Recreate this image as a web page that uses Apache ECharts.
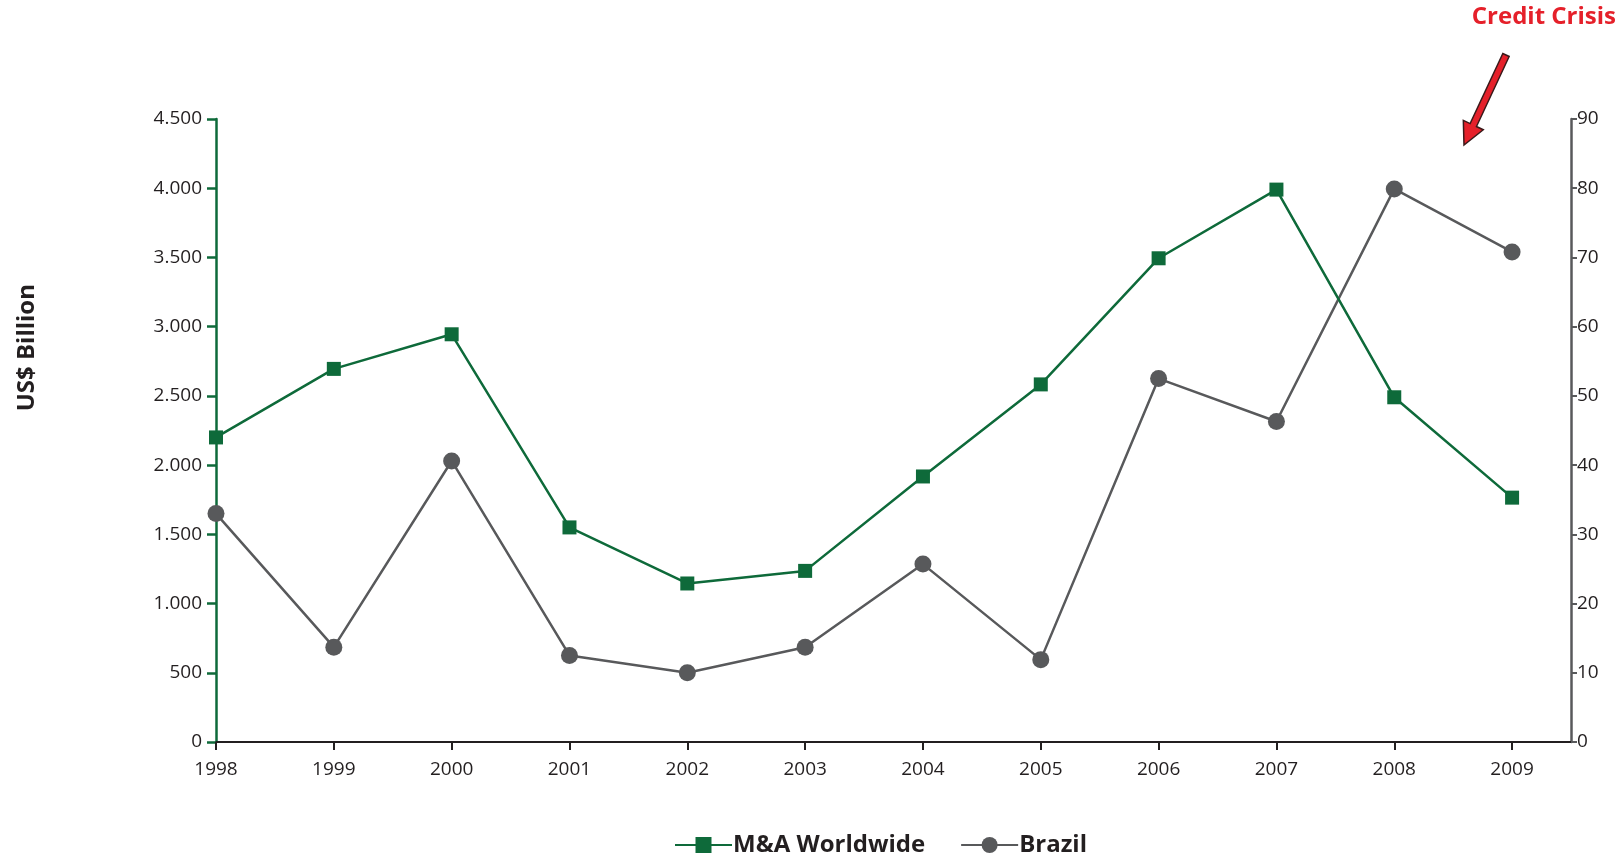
<!DOCTYPE html>
<html>
<head>
<meta charset="utf-8">
<script src="https://cdn.jsdelivr.net/npm/echarts@6/dist/echarts.min.js"></script>
<style>
html,body{margin:0;padding:0;background:#fff;}
#chart{width:1622px;height:857px;}
</style>
</head>
<body>
<div id="chart"></div>
<script>
var years = [1998, 1999, 2000, 2001, 2002, 2003, 2004, 2005, 2006, 2007, 2008, 2009];
var maWorldwide = [2200, 2695, 2945, 1550, 1145, 1236, 1918, 2583, 3494, 3990, 2490, 1765];
var brazil = [33.0, 13.7, 40.6, 12.5, 10.0, 13.7, 25.7, 11.9, 52.5, 46.3, 79.9, 70.8];
var leftTicks = [0, 500, 1000, 1500, 2000, 2500, 3000, 3500, 4000, 4500];
var rightTicks = [0, 10, 20, 30, 40, 50, 60, 70, 80, 90];

var GREEN = '#0e6a3a';
var GRAY = '#58595b';
var DARK = '#231f20';
var RED = '#e5202a';
var FONT = '"Open Sans", sans-serif';

function pairs(vals) {
  return years.map(function (y, i) { return [y, vals[i]]; });
}
function thousands(v) {
  return String(v).replace(/\B(?=(\d{3})+(?!\d))/g, '.');
}

// arrow polygon (annotation)
function arrowPoints(sx, sy, tx, ty, shaftHalf, headHalf, headLen) {
  var dx = tx - sx, dy = ty - sy, L = Math.sqrt(dx * dx + dy * dy);
  var ux = dx / L, uy = dy / L, nx = -uy, ny = ux;
  var hx = tx - ux * headLen, hy = ty - uy * headLen;
  return [
    [sx + nx * shaftHalf, sy + ny * shaftHalf],
    [hx + nx * shaftHalf, hy + ny * shaftHalf],
    [hx + nx * headHalf, hy + ny * headHalf],
    [tx, ty],
    [hx - nx * headHalf, hy - ny * headHalf],
    [hx - nx * shaftHalf, hy - ny * shaftHalf],
    [sx - nx * shaftHalf, sy - ny * shaftHalf]
  ];
}

var chart = echarts.init(document.getElementById('chart'), null, {renderer: 'canvas'});
var option = {
  backgroundColor: '#fff',
  animation: false,
  textStyle: {fontFamily: FONT},
  grid: {left: 216, right: 51, top: 119, bottom: 115, containLabel: false, outerBoundsMode: 'none'},
  legend: {
    left: 669, top: 828,
    itemWidth: 57, itemHeight: 20, itemGap: 35,
    textStyle: {fontFamily: FONT, fontWeight: 'bold', fontSize: 24, color: DARK, padding: [0, 0, 0, -4]},
    data: ['M&A Worldwide', 'Brazil']
  },
  xAxis: {
    type: 'value', min: 1998, max: 2009.5, interval: 1,
    splitLine: {show: false},
    axisLine: {show: true, onZero: false, lineStyle: {color: DARK, width: 2}},
    axisTick: {show: true, length: 8, lineStyle: {color: DARK, width: 2}, customValues: years},
    axisLabel: {margin: 18, fontSize: 19, color: DARK, fontFamily: FONT, customValues: years,
      formatter: function (v) { return String(v); }}
  },
  yAxis: [{
    type: 'value', min: 0, max: 4500, interval: 500, position: 'left',
    splitLine: {show: false},
    axisLine: {show: true, lineStyle: {color: GREEN, width: 2.5}},
    axisTick: {show: true, length: 9, lineStyle: {color: GREEN, width: 2.5}, customValues: leftTicks},
    axisLabel: {margin: 14, fontSize: 19, color: DARK, fontFamily: FONT, customValues: leftTicks,
      formatter: function (v) { return thousands(v); }}
  }, {
    type: 'value', min: 0, max: 90, interval: 10, position: 'right',
    splitLine: {show: false},
    axisLine: {show: true, lineStyle: {color: GRAY, width: 2.5}},
    axisTick: {show: true, length: 6, lineStyle: {color: GRAY, width: 2}, customValues: rightTicks},
    axisLabel: {margin: 6, fontSize: 19, color: DARK, fontFamily: FONT, customValues: rightTicks}
  }],
  series: [{
    name: 'M&A Worldwide', type: 'line', yAxisIndex: 0,
    data: pairs(maWorldwide),
    symbol: 'rect', symbolSize: 14,
    lineStyle: {color: GREEN, width: 2.5},
    itemStyle: {color: GREEN},
    z: 3
  }, {
    name: 'Brazil', type: 'line', yAxisIndex: 1,
    data: pairs(brazil),
    symbol: 'circle', symbolSize: 17,
    lineStyle: {color: GRAY, width: 2.5},
    itemStyle: {color: GRAY},
    z: 2
  }],
  graphic: [{
    type: 'text', left: 15, top: 284, rotation: Math.PI / 2,
    style: {text: 'US$ Billion', font: 'bold 24px ' + FONT, fill: DARK}
  }, {
    type: 'text', right: 6, top: 5,
    style: {text: 'Credit Crisis', font: 'bold 24px ' + FONT, fill: RED}
  }, {
    type: 'polygon',
    shape: {points: arrowPoints(1506, 55, 1464, 145, 3.5, 11, 22)},
    style: {fill: RED, stroke: '#3a1a1a', lineWidth: 1.5}
  }]
};
chart.setOption(option);
</script>
</body>
</html>
